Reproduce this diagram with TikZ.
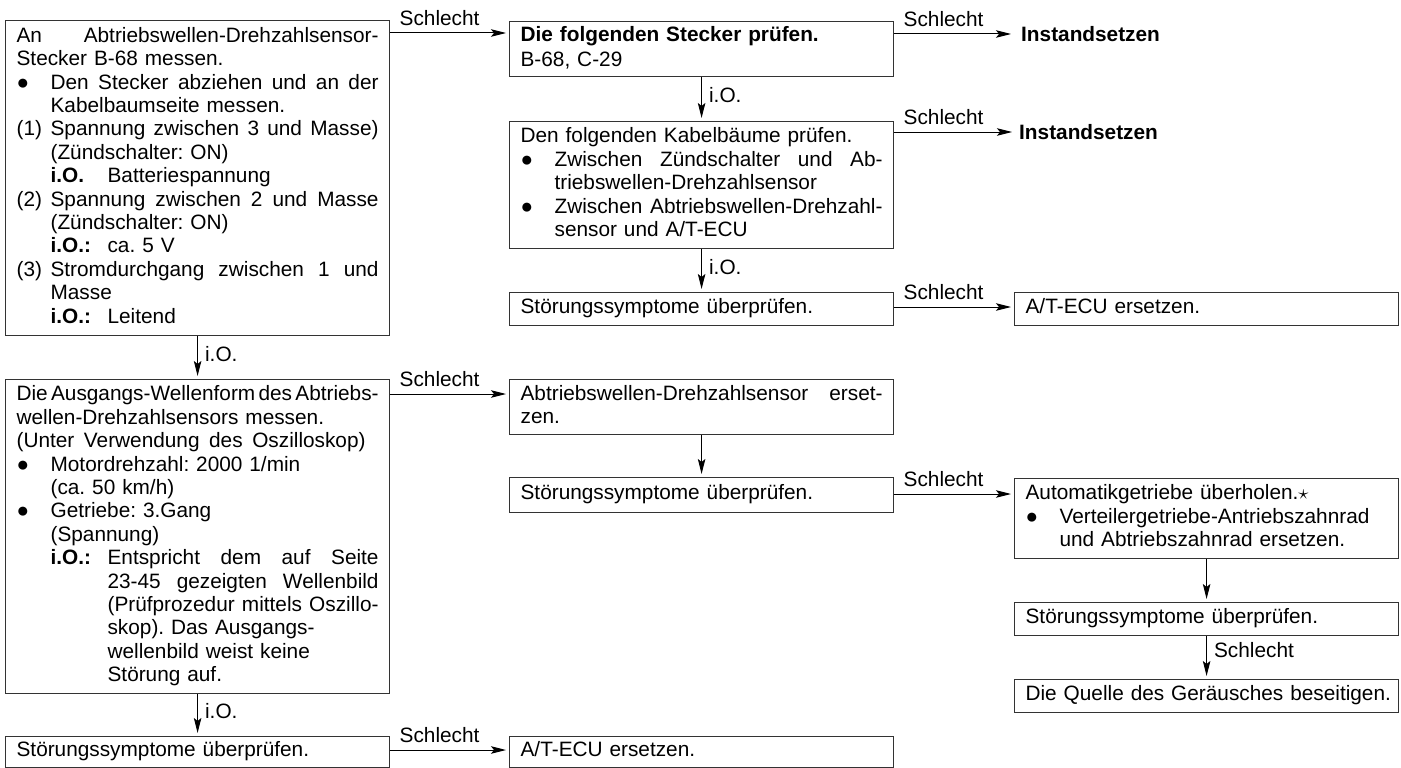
\documentclass[tikz,border=0pt]{standalone}
\usepackage{fontspec}
\setmainfont{Liberation Sans}
\usetikzlibrary{arrows.meta}
\newcommand\fs{\fontsize{20.8}{23.4}\selectfont\frenchspacing}
\newcommand\lb[1]{\makebox[34pt][l]{#1}}
\newcommand\jz[2]{\makebox[#1][s]{\spaceskip=0.278em plus 1fil minus 0.12em\relax #2}}
\newcommand\iok[1]{\makebox[57pt][l]{\textbf{#1}}}
\begin{document}
\begin{tikzpicture}[x=1pt,y=-1pt,
  box/.style={draw=black!80, line width=1.2pt, anchor=north west, inner xsep=11pt, inner ysep=0pt,
    align=left, font=\fs, minimum width=384pt, text width=362pt,
    execute at begin node=\strut, execute at end node=\strut},
  arr/.style={line width=1pt, -{Stealth[length=15pt,width=7.5pt,inset=3pt]}, shorten >=3pt},
  lab/.style={font=\fs, inner sep=0pt},
  bad/.style={lab, anchor=base west, xshift=9pt, yshift=7.5pt},
  ok/.style={lab, anchor=west, xshift=7pt, yshift=4pt}]
\useasboundingbox (0,0) rectangle (1401,768);

% ---------- left column ----------
\node[box, minimum height=315pt] (A) at (5,20) {%
\jz{362pt}{An Abtriebswellen-Drehzahlsensor-}\\
Stecker B-68 messen.\\
\lb{●}\jz{328pt}{Den Stecker abziehen und an der}\\
\lb{}Kabelbaumseite messen.\\
\lb{(1)}\jz{328pt}{Spannung zwischen 3 und Masse)}\\
\lb{}(Zündschalter: ON)\\
\lb{}\iok{i.O.}Batteriespannung\\
\lb{(2)}\jz{328pt}{Spannung zwischen 2 und Masse}\\
\lb{}(Zündschalter: ON)\\
\lb{}\iok{i.O.:}ca. 5 V\\
\lb{(3)}\jz{328pt}{Stromdurchgang zwischen 1 und}\\
\lb{}Masse\\
\lb{}\iok{i.O.:}Leitend};

\node[box, minimum height=314pt] (B) at (5,379) {%
\jz{362pt}{Die Ausgangs-Wellenform des Abtriebs-}\\
wellen-Drehzahlsensors messen.\\
\jz{349pt}{(Unter Verwendung des Oszilloskop)}\\
\lb{●}Motordrehzahl: 2000 1/min\\
\lb{}(ca. 50 km/h)\\
\lb{●}Getriebe: 3.Gang\\
\lb{}(Spannung)\\
\lb{}\iok{i.O.:}\jz{271pt}{Entspricht dem auf Seite}\\
\lb{}\iok{}\jz{271pt}{23-45 gezeigten Wellenbild}\\
\lb{}\iok{}\jz{271pt}{(Prüfprozedur mittels Oszillo-}\\
\lb{}\iok{}skop). Das Ausgangs-\\
\lb{}\iok{}wellenbild weist keine\\
\lb{}\iok{}Störung auf.};

\node[box, minimum height=31pt] (C) at (5,736) {Störungssymptome überprüfen.};

% ---------- middle column ----------
\node[box, minimum height=55pt] (D) at (509,21) {%
\textbf{Die folgenden Stecker prüfen.}\\[2pt]
B-68, C-29};

\node[box, minimum height=127pt] (E) at (509,121) {%
Den folgenden Kabelbäume prüfen.\\
\lb{●}\jz{328pt}{Zwischen Zündschalter und Ab-}\\
\lb{}triebswellen-Drehzahlsensor\\
\lb{●}\jz{328pt}{Zwischen Abtriebswellen-Drehzahl-}\\
\lb{}sensor und A/T-ECU};

\node[box, minimum height=33pt] (F) at (509,292) {Störungssymptome überprüfen.};

\node[box, minimum height=55pt] (H) at (509,379) {%
\jz{362pt}{Abtriebswellen-Drehzahlsensor erset-}\\
zen.};

\node[box, minimum height=35pt] (I) at (509,477) {Störungssymptome überprüfen.};

\node[box, minimum height=31pt] (M) at (509,736) {A/T-ECU ersetzen.};

% ---------- right column ----------
\node[lab, font=\fs\bfseries, anchor=west] (N1) at (1021,34) {Instandsetzen};
\node[lab, font=\fs\bfseries, anchor=west] (N2) at (1019,132) {Instandsetzen};

\node[box, minimum height=33pt] (G) at (1014,292) {A/T-ECU ersetzen.};

\node[box, minimum height=80pt] (J) at (1014,478) {%
Automatikgetriebe überholen.$\star$\\
\lb{●}Verteilergetriebe-Antriebszahnrad\\
\lb{}und Abtriebszahnrad ersetzen.};

\node[box, minimum height=33pt] (K) at (1014,602) {Störungssymptome überprüfen.};

\node[box, minimum height=33pt] (L) at (1014,679) {\mbox{Die Quelle des Geräusches beseitigen.}};

% ---------- connectors: Schlecht (horizontal) ----------
\coordinate (a1) at ([yshift=-13pt]A.north east);
\draw[arr] (a1) node[bad] {Schlecht} -- (a1 -| D.west);

\coordinate (d1) at ([yshift=-13pt]D.north east);
\draw[arr, shorten >=10pt] (d1) node[bad] {Schlecht} -- (d1 -| N1.west);

\coordinate (e1) at ([yshift=-11pt]E.north east);
\draw[arr, shorten >=7pt] (e1) node[bad] {Schlecht} -- (e1 -| N2.west);

\coordinate (f1) at ([yshift=-15pt]F.north east);
\draw[arr] (f1) node[bad] {Schlecht} -- (f1 -| G.west);

\coordinate (b1) at ([yshift=-15pt]B.north east);
\draw[arr] (b1) node[bad] {Schlecht} -- (b1 -| H.west);

\coordinate (i1) at ([yshift=-17pt]I.north east);
\draw[arr] (i1) node[bad] {Schlecht} -- (i1 -| J.west);

\coordinate (c1) at ([yshift=-14pt]C.north east);
\draw[arr] (c1) node[bad] {Schlecht} -- (c1 -| M.west);

% ---------- connectors: vertical ----------
\draw[arr] (A.south) -- node[ok] {i.O.} (B.north);
\draw[arr] (B.south) -- node[ok] {i.O.} (C.north);
\draw[arr] (D.south) -- node[ok] {i.O.} (E.north);
\draw[arr] (E.south) -- node[ok] {i.O.} (F.north);
\draw[arr] (H.south) -- (I.north);
\draw[arr] (J.south) -- (K.north);
\draw[arr] (K.south) -- node[ok, yshift=4pt] {Schlecht} (L.north);
\end{tikzpicture}
\end{document}
